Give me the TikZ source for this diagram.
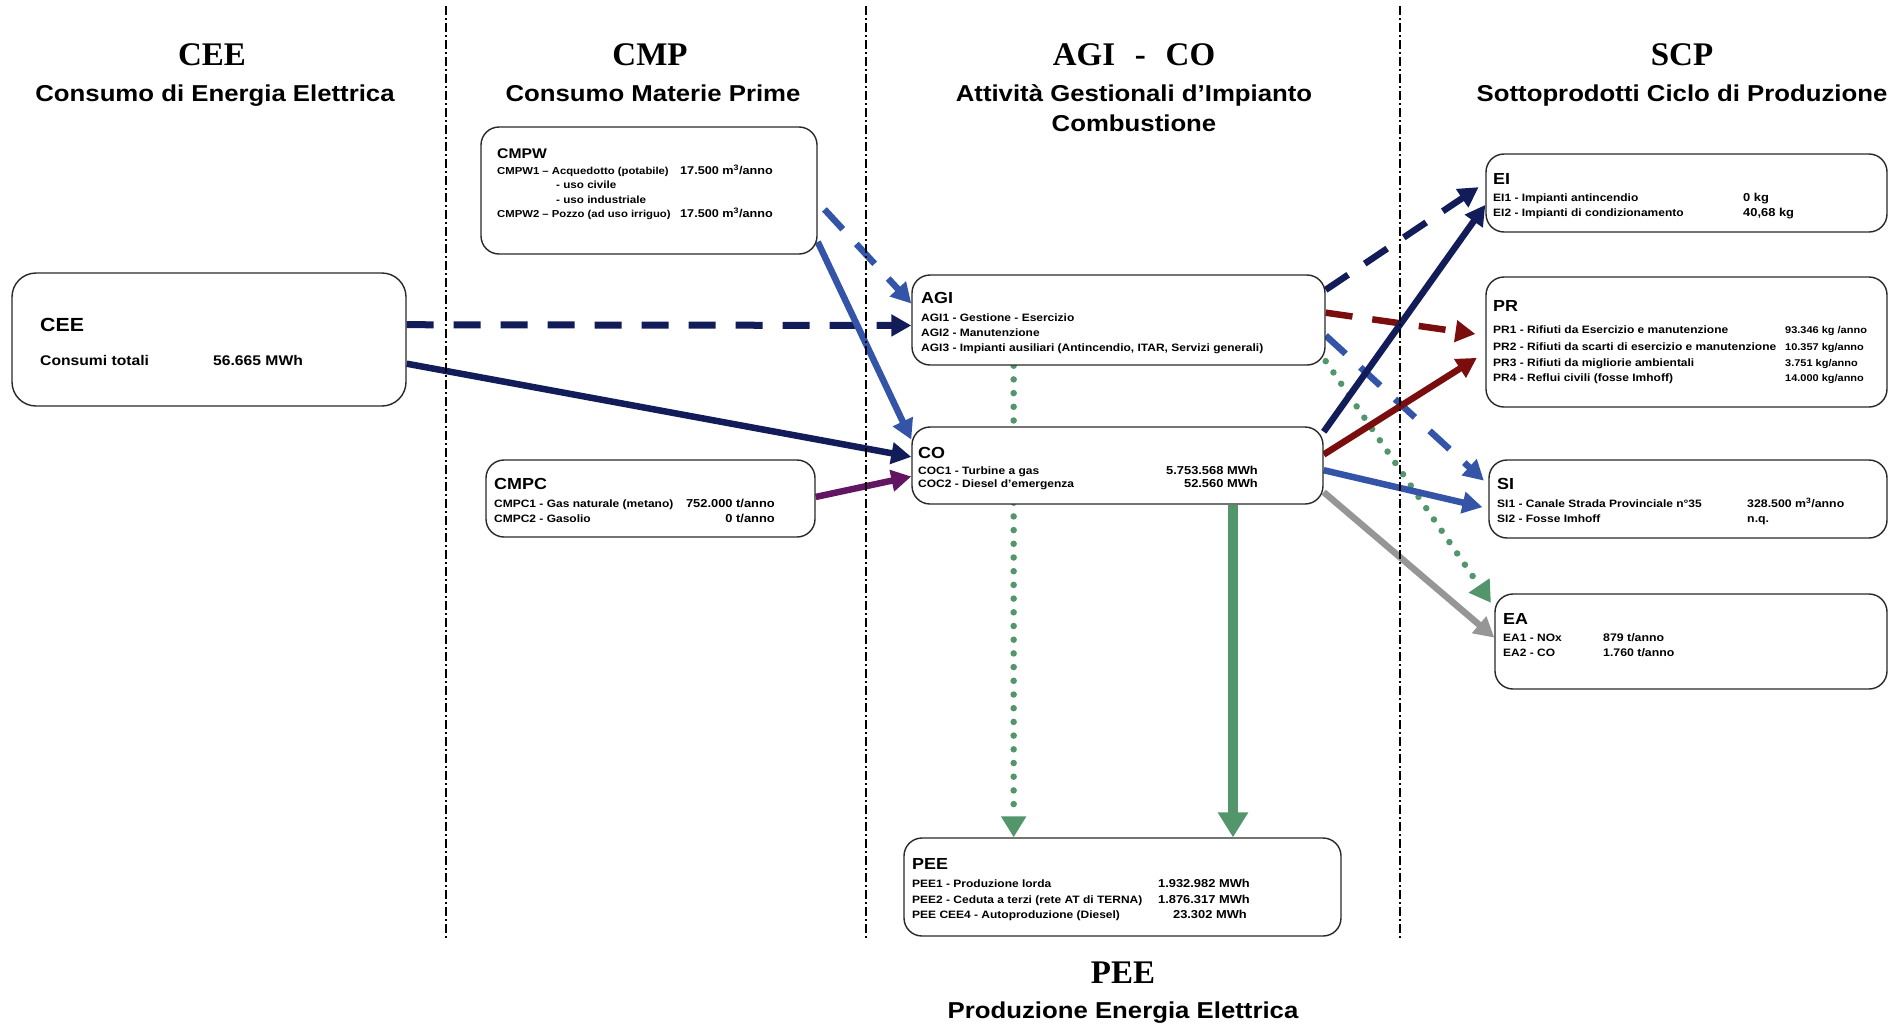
\documentclass[tikz,border=0pt]{standalone}
\usepackage{fontspec}
\setmainfont[FakeStretch=1.12]{Liberation Sans}
\newfontfamily\hdfont{Liberation Serif}
\usetikzlibrary{arrows.meta,calc}
\pgfdeclarelayer{back}
\pgfdeclarelayer{bg}
\pgfsetlayers{back,bg,main}
\definecolor{navy}{RGB}{18,28,88}
\definecolor{midblue}{RGB}{52,84,168}
\definecolor{dkred}{RGB}{122,14,14}
\definecolor{purp}{RGB}{98,22,98}
\definecolor{grn}{RGB}{84,150,108}
\definecolor{gry}{RGB}{150,150,150}
\definecolor{boxc}{RGB}{40,40,40}
\tikzset{
  box/.style={draw=boxc, line width=1.4pt, rounded corners=18pt, fill=white, inner sep=0pt},
  hd/.style={anchor=base, inner sep=0pt, font=\hdfont\bfseries\fontsize{33}{36}\selectfont},
  sub/.style={anchor=base, inner sep=0pt, font=\bfseries\fontsize{23}{26}\selectfont},
  ttl/.style={anchor=base west, inner sep=0pt, font=\bfseries\fontsize{16}{18}\selectfont},
  ln/.style={anchor=base west, inner sep=0pt, font=\bfseries\fontsize{10.7}{12}\selectfont},
  lnr/.style={anchor=base east, inner sep=0pt, font=\bfseries\fontsize{10.7}{12}\selectfont},
  arr/.style={line width=6.5pt, -{Triangle[length=20pt,width=21pt]}},
  dsh/.style={dash pattern=on 27pt off 20pt},
  dotl/.style={line width=6.5pt, line cap=round, dash pattern=on 0pt off 13.7pt, -{Triangle[length=21pt,width=24pt,sharp]}},
  vline/.style={line width=1.8pt, black, dash pattern=on 9pt off 3pt on 2pt off 3pt}
}
\begin{document}
\begin{tikzpicture}[x=1pt,y=-1pt]
\useasboundingbox (0,0) rectangle (1897,1028);
\begin{pgfonlayer}{back}
\fill[white] (0,0) rectangle (1897,1028);
\end{pgfonlayer}

% headers
\node[hd] (hCEE) at (212,65) {CEE};
\node[sub] (sCEE) at (215,101) {Consumo di Energia Elettrica};
\node[hd] (hCMP) at (650,65) {CMP};
\node[sub] (sCMP) at (653,101) {Consumo Materie Prime};
\node[hd] (hAGI) at (1134,65) {AGI\hspace{0.6em}-\hspace{0.6em}CO};
\node[sub] (sAGI1) at (1134,101) {Attività Gestionali d'Impianto};
\node[sub] (sAGI2) at (1134,131) {Combustione};
\node[hd] (hSCP) at (1682,65) {SCP};
\node[sub] (sSCP) at (1682,101) {Sottoprodotti Ciclo di Produzione};
\node[hd] (hPEE) at (1123,983) {PEE};
\node[sub] (sPEE) at (1123,1018) {Produzione Energia Elettrica};

% boxes
\node[box, minimum width=394pt, minimum height=133pt, rounded corners=24pt] (cee) at (209,339.5) {};
\node[box, minimum width=336pt, minimum height=127pt] (cmpw) at (649,190.5) {};
\node[box, minimum width=329pt, minimum height=77pt] (cmpc) at (650.5,498.5) {};
\node[box, minimum width=413pt, minimum height=90pt] (agi) at (1118.5,320) {};
\node[box, minimum width=411pt, minimum height=77pt] (co) at (1117.5,465.5) {};
\node[box, minimum width=437pt, minimum height=98pt] (pee) at (1122.5,887) {};
\node[box, minimum width=401pt, minimum height=78pt] (ei) at (1686.5,193) {};
\node[box, minimum width=401pt, minimum height=130pt] (pr) at (1686.5,342) {};
\node[box, minimum width=398pt, minimum height=78pt] (si) at (1688,499) {};
\node[box, minimum width=392pt, minimum height=95pt] (ea) at (1691,641.5) {};

% CEE text
\node[ttl, font=\bfseries\fontsize{19}{21}\selectfont] (ceeT) at (40,331) {CEE};
\node[ln, font=\bfseries\fontsize{14}{16}\selectfont] (ceeL1) at (40,365) {Consumi totali};
\node[ln, font=\bfseries\fontsize{14}{16}\selectfont] (ceeV1) at (213,365) {56.665 MWh};

% CMPW text
\node[ttl, font=\bfseries\fontsize{14}{16}\selectfont] (cmpwT) at (497,158) {CMPW};
\node[ln, font=\bfseries\fontsize{10.1}{12}\selectfont] (cmpwL1) at (497,174) {CMPW1 – Acquedotto (potabile)};
\node[ln, font=\bfseries\fontsize{11.3}{13}\selectfont] (cmpwV1) at (680,174) {17.500 m\textsuperscript{3}/anno};
\node[ln, font=\bfseries\fontsize{10.4}{12}\selectfont] (cmpwL2) at (556,188) {- uso civile};
\node[ln, font=\bfseries\fontsize{10.4}{12}\selectfont] (cmpwL3) at (556,203) {- uso industriale};
\node[ln, font=\bfseries\fontsize{10.1}{12}\selectfont] (cmpwL4) at (497,217) {CMPW2 – Pozzo (ad uso irriguo)};
\node[ln, font=\bfseries\fontsize{11.3}{13}\selectfont] (cmpwV4) at (680,217) {17.500 m\textsuperscript{3}/anno};

% CMPC text
\node[ttl] (cmpcT) at (494,489) {CMPC};
\node[ln] (cmpcL1) at (494,507) {CMPC1 - Gas naturale (metano)};
\node[ln] (cmpcL2) at (494,522) {CMPC2 - Gasolio};
\node[lnr, font=\bfseries\fontsize{11.5}{13}\selectfont] (cmpcV1) at (775,507) {752.000 t/anno};
\node[lnr, font=\bfseries\fontsize{11.5}{13}\selectfont] (cmpcV2) at (775,522) {0 t/anno};

% AGI text
\node[ttl] (agiT) at (921,303) {AGI};
\node[ln] (agiL1) at (921,321) {AGI1 - Gestione - Esercizio};
\node[ln] (agiL2) at (921,336) {AGI2 - Manutenzione};
\node[ln] (agiL3) at (921,351) {AGI3 - Impianti ausiliari (Antincendio, ITAR, Servizi generali)};

% CO text
\node[ttl] (coT) at (918,458) {CO};
\node[ln] (coL1) at (918,474) {COC1 - Turbine a gas};
\node[ln] (coL2) at (918,487) {COC2 - Diesel d'emergenza};
\node[lnr, font=\bfseries\fontsize{11.5}{13}\selectfont] (coV1) at (1258,474) {5.753.568 MWh};
\node[lnr, font=\bfseries\fontsize{11.5}{13}\selectfont] (coV2) at (1258,487) {52.560 MWh};

% PEE text
\node[ttl] (peeT) at (912,869) {PEE};
\node[ln] (peeL1) at (912,887) {PEE1 - Produzione lorda};
\node[ln] (peeL2) at (912,903) {PEE2 - Ceduta a terzi (rete AT di TERNA)};
\node[ln] (peeL3) at (912,918) {PEE CEE4 - Autoproduzione (Diesel)};
\node[lnr, font=\bfseries\fontsize{11.5}{13}\selectfont] (peeV1) at (1250,887) {1.932.982 MWh};
\node[lnr, font=\bfseries\fontsize{11.5}{13}\selectfont] (peeV2) at (1250,903) {1.876.317 MWh};
\node[lnr, font=\bfseries\fontsize{11.5}{13}\selectfont] (peeV3) at (1247,918) {23.302 MWh};

% EI text
\node[ttl] (eiT) at (1493,184) {EI};
\node[ln] (eiL1) at (1493,201) {EI1 - Impianti antincendio};
\node[ln] (eiL2) at (1493,216) {EI2 - Impianti di condizionamento};
\node[ln, font=\bfseries\fontsize{11.5}{13}\selectfont] (eiV1) at (1743,201) {0 kg};
\node[ln, font=\bfseries\fontsize{11.5}{13}\selectfont] (eiV2) at (1743,216) {40,68 kg};

% PR text
\node[ttl] (prT) at (1493,311) {PR};
\node[ln] (prL1) at (1493,333) {PR1 - Rifiuti da Esercizio e manutenzione};
\node[ln] (prL2) at (1493,350) {PR2 - Rifiuti da scarti di esercizio e manutenzione};
\node[ln] (prL3) at (1493,366) {PR3 - Rifiuti da migliorie ambientali};
\node[ln] (prL4) at (1493,381) {PR4 - Reflui civili (fosse Imhoff)};
\node[ln, font=\bfseries\fontsize{9.8}{11}\selectfont] (prV1) at (1785,333) {93.346 kg /anno};
\node[ln, font=\bfseries\fontsize{9.8}{11}\selectfont] (prV2) at (1785,350) {10.357 kg/anno};
\node[ln, font=\bfseries\fontsize{9.8}{11}\selectfont] (prV3) at (1785,366) {3.751 kg/anno};
\node[ln, font=\bfseries\fontsize{9.8}{11}\selectfont] (prV4) at (1785,381) {14.000 kg/anno};

% SI text
\node[ttl] (siT) at (1497,489) {SI};
\node[ln] (siL1) at (1497,507) {SI1 - Canale Strada Provinciale n°35};
\node[ln] (siL2) at (1497,522) {SI2 - Fosse Imhoff};
\node[ln, font=\bfseries\fontsize{11}{13}\selectfont] (siV1) at (1747,507) {328.500 m\textsuperscript{3}/anno};
\node[ln, font=\bfseries\fontsize{11}{13}\selectfont] (siV2) at (1747,522) {n.q.};

% EA text
\node[ttl] (eaT) at (1503,624) {EA};
\node[ln] (eaL1) at (1503,641) {EA1 - NOx};
\node[ln] (eaL2) at (1503,656) {EA2 - CO};
\node[ln, font=\bfseries\fontsize{11}{13}\selectfont] (eaV1) at (1603,641) {879 t/anno};
\node[ln, font=\bfseries\fontsize{11}{13}\selectfont] (eaV2) at (1603,656) {1.760 t/anno};

% connectors
\begin{pgfonlayer}{bg}
\coordinate (d1) at ($(agi.south west)!0.247!(agi.south east)$);
\coordinate (g1) at ($(co.south west)!0.78!(co.south east)$);
% inputs
\draw[arr, dsh, navy, line width=7pt] ($(cee.north east)!0.39!(cee.south east)$) -- ($(agi.north west)!0.56!(agi.south west)$);
\draw[arr, navy] ($(cee.north east)!0.68!(cee.south east)$) -- ($(co.north west)!0.39!(co.south west)$);
\draw[arr, dsh, midblue, shorten <=10pt] ($(cmpw.north east)!0.59!(cmpw.south east)$) -- ($(agi.north west)!0.32!(agi.south west)$);
\draw[arr, midblue] ($(cmpw.north east)!0.9!(cmpw.south east)$) -- ($(co.north west)!0.17!(co.south west)$);
\draw[arr, purp] ($(cmpc.north east)!0.48!(cmpc.south east)$) -- ($(co.north west)!0.64!(co.south west)$);
% down
\draw[dotl, grn] (d1) -- (d1 |- pee.north);
\draw[grn, line width=9.5pt, -{Triangle[length=25pt,width=29pt]}] (g1) -- (g1 |- pee.north);
% outputs AGI
\draw[arr, dsh, navy, shorten >=8pt] ($(agi.north east)!0.17!(agi.south east)$) -- ($(ei.north west)!0.37!(ei.south west)$);
\draw[arr, dsh, dkred, shorten >=10pt] ($(agi.north east)!0.42!(agi.south east)$) -- ($(pr.north west)!0.45!(pr.south west)$);
\draw[arr, dsh, midblue, shorten >=6pt] ($(agi.north east)!0.67!(agi.south east)$) -- ($(si.north west)!0.32!(si.south west)$);
\draw[dotl, grn, shorten >=6pt] ($(agi.north east)!0.95!(agi.south east)$) -- ($(ea.north west)!0.15!(ea.south west)$);
% outputs CO
\draw[arr, navy] ($(co.north east)!0.07!(co.south east)$) -- ($(ei.north west)!0.65!(ei.south west)$);
\draw[arr, dkred, shorten >=10pt] ($(co.north east)!0.36!(co.south east)$) -- ($(pr.north west)!0.58!(pr.south west)$);
\draw[arr, midblue, shorten >=6pt] ($(co.north east)!0.56!(co.south east)$) -- ($(si.north west)!0.62!(si.south west)$);
\draw[arr, gry] ($(co.north east)!0.84!(co.south east)$) -- ($(ea.north west)!0.46!(ea.south west)$);
\end{pgfonlayer}

% dividers
\draw[vline] (446,6) -- (446,938);
\draw[vline] (866,6) -- (866,938);
\draw[vline] (1400,6) -- (1400,938);
\end{tikzpicture}
\end{document}
